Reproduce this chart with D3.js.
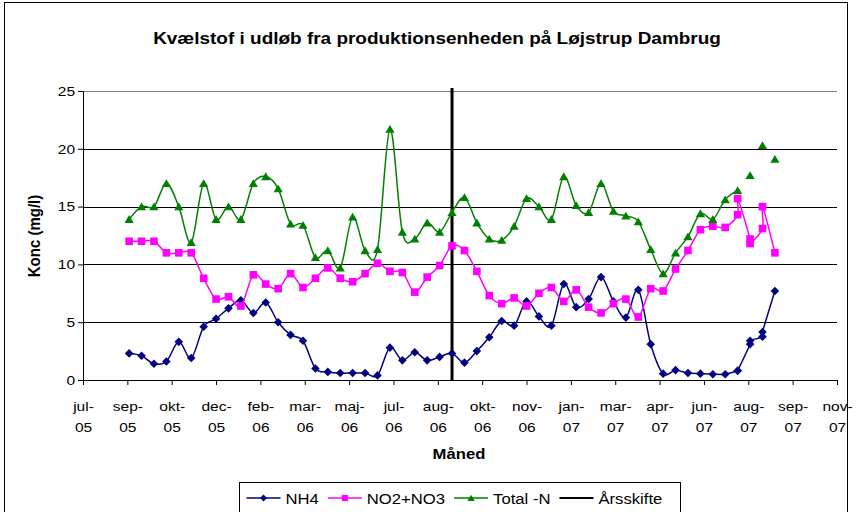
<!DOCTYPE html>
<html>
<head>
<meta charset="utf-8">
<script src="https://cdn.jsdelivr.net/npm/d3@7"></script>
<style>
  body { margin: 0; background: #fff; }
  text { font-family: Arial, "Liberation Sans", sans-serif; fill: #000; }
</style>
</head>
<body>
<div id="chart"></div>
<script>
const WIDTH = 858, HEIGHT = 512;
const M = { top: 91, right: 21, bottom: 132, left: 83 };
const innerW = WIDTH - M.left - M.right;
const innerH = HEIGHT - M.top - M.bottom;
const SX = 1.15; // the picture is a bit wider than Arial

// sampling dates (biweekly, a few doubled at the end)
const dates = [
  "2005-09-07","2005-09-21","2005-10-05","2005-10-19","2005-11-02","2005-11-16","2005-11-30","2005-12-14","2005-12-28",
  "2006-01-11","2006-01-25","2006-02-08","2006-02-22","2006-03-08","2006-03-22","2006-04-05","2006-04-19","2006-05-03",
  "2006-05-17","2006-05-31","2006-06-14","2006-06-28","2006-07-12","2006-07-26","2006-08-09","2006-08-23","2006-09-06",
  "2006-09-20","2006-10-04","2006-10-18","2006-11-01","2006-11-15","2006-11-29","2006-12-13","2006-12-27","2007-01-10",
  "2007-01-24","2007-02-07","2007-02-21","2007-03-07","2007-03-21","2007-04-04","2007-04-18","2007-05-02","2007-05-16",
  "2007-05-30","2007-06-13","2007-06-27","2007-07-11","2007-07-25","2007-07-25","2007-08-08","2007-08-08","2007-08-22",
  "2007-08-22","2007-09-05"
];
const nh4 = [
  2.3, 2.1, 1.4, 1.6, 3.3, 1.9, 4.6, 5.3, 6.2,
  6.9, 5.8, 6.7, 5.0, 3.9, 3.4, 1.0, 0.7, 0.6,
  0.6, 0.6, 0.4, 2.8, 1.7, 2.4, 1.7, 2.0, 2.3,
  1.5, 2.5, 3.7, 5.1, 4.7, 6.8, 5.5, 4.7, 8.3,
  6.3, 7.0, 8.9, 6.8, 5.4, 7.8, 3.1, 0.55, 0.85,
  0.6, 0.55, 0.5, 0.5, 0.8, 0.8, 3.1, 3.4, 3.75,
  4.15, 7.7
];
const no2no3 = [
  12.0, 12.0, 12.0, 11.0, 11.0, 11.0, 8.8, 7.0, 7.2,
  6.4, 9.1, 8.3, 7.9, 9.2, 8.0, 8.8, 9.7, 8.8,
  8.5, 9.2, 10.1, 9.4, 9.3, 7.6, 8.9, 9.9, 11.6,
  11.2, 9.4, 7.3, 6.6, 7.1, 6.4, 7.5, 8.0, 6.8,
  7.8, 6.3, 5.8, 6.6, 7.0, 5.45, 7.9, 7.7, 9.6,
  11.2, 13.0, 13.3, 13.2, 14.3, 15.7, 12.2, 11.8, 13.1,
  15.0, 11.0
];
const totalN = [
  13.9, 15.0, 15.0, 17.0, 15.0, 11.9, 17.0, 13.9, 15.0,
  13.9, 17.0, 17.6, 16.55, 13.5, 13.4, 10.6, 11.2, 9.7,
  14.1, 11.2, 11.3, 21.7, 12.8, 12.2, 13.6, 12.8, 14.5,
  15.8, 13.6, 12.2, 12.1, 13.3, 15.7, 15.0, 13.9, 17.6,
  15.1, 14.5, 17.0, 14.6, 14.2, 13.7, 11.3, 9.2, 11.0,
  12.4, 14.4, 13.9, 15.6, 16.4, null, 17.7, null, 20.3,
  null, 19.1
];
const tickLabels = ["jul-05","sep-05","okt-05","dec-05","feb-06","mar-06","maj-06","jul-06","aug-06",
  "okt-06","nov-06","jan-07","mar-07","apr-07","jun-07","aug-07","sep-07","nov-07"];
const yTicks = [0, 5, 10, 15, 20, 25];
const yearChange = "2006-09-06";
const seriesNames = ["NH4", "NO2+NO3", "Total -N", "Årsskifte"];

const parse = d3.timeParse("%Y-%m-%d");
const xStart = parse("2005-07-17");
const tickDates = tickLabels.map((_, i) => d3.timeDay.offset(xStart, 50 * i));

const svg = d3.select("#chart").append("svg")
  .attr("width", WIDTH).attr("height", HEIGHT);

// outer chart border
svg.append("rect").attr("x", 4.5).attr("y", 2.5).attr("width", 843).attr("height", 530)
  .attr("fill", "#fff").attr("stroke", "#000");

const g = svg.append("g").attr("transform", `translate(${M.left},${M.top})`);

const x = d3.scaleTime().domain([xStart, tickDates[tickDates.length - 1]]).range([0, innerW]);
const y = d3.scaleLinear().domain([0, 25]).range([innerH, 0]);

// gridlines
g.selectAll(".grid").data(yTicks.slice(1)).join("line")
  .attr("x1", 0).attr("x2", innerW)
  .attr("y1", d => Math.round(y(d)) + 0.5).attr("y2", d => Math.round(y(d)) + 0.5)
  .attr("stroke", d => d === 25 ? "#808080" : "#000").attr("stroke-width", 1);

// axes
const gy = g.append("g").call(d3.axisLeft(y).tickValues(yTicks).tickSize(5).tickSizeOuter(0));
gy.selectAll("text").attr("font-size", 13.5).attr("x", -8 / SX)
  .attr("transform", `scale(${SX},1)`);

const gx = g.append("g").attr("transform", `translate(0,${innerH})`)
  .call(d3.axisBottom(x).tickValues(tickDates).tickSize(5).tickSizeOuter(0).tickFormat(""));
gx.selectAll(".tick text").each(function(d, i) {
  const t = d3.select(this).attr("y", null).attr("dy", null)
    .attr("font-size", 13.5).attr("transform", `scale(${SX},1)`);
  const parts = tickLabels[i].split("-");
  t.append("tspan").attr("x", 0).attr("y", 31).text(parts[0] + "-");
  t.append("tspan").attr("x", 0).attr("y", 52).text(parts[1]);
});
[gx, gy].forEach(a => {
  a.select(".domain").attr("stroke", "#000");
  a.selectAll(".tick line").attr("stroke", "#000");
  a.attr("font-family", null);
});

// titles
svg.append("text").attr("transform", `translate(${WIDTH / 2 + 8},44) scale(${SX},1)`)
  .attr("text-anchor", "middle").attr("font-size", 16.5).attr("font-weight", "bold")
  .text("Kvælstof i udløb fra produktionsenheden på Løjstrup Dambrug");
svg.append("text").attr("transform", `translate(459,459) scale(${SX},1)`)
  .attr("text-anchor", "middle").attr("font-size", 14.5).attr("font-weight", "bold")
  .text("Måned");
svg.append("text").attr("transform", "translate(40,236) rotate(-90) scale(1,1.15)")
  .attr("text-anchor", "middle").attr("font-size", 15).attr("font-weight", "bold")
  .text("Konc (mg/l)");

// year change line
g.append("line")
  .attr("x1", x(parse(yearChange))).attr("x2", x(parse(yearChange)))
  .attr("y1", y(0)).attr("y2", y(25) - 3)
  .attr("stroke", "#000").attr("stroke-width", 3);

const rows = dates.map((d, i) => ({ date: parse(d), nh4: nh4[i], no: no2no3[i], tn: totalN[i] }));

const markers = {
  diamond: "M0,-4.3L4.3,0L0,4.3L-4.3,0Z",
  square: "M-3.8,-3.8H3.8V3.8H-3.8Z",
  triangle: "M0,-4.2L4.6,3.6H-4.6Z"
};
const series = [
  { key: "nh4", name: seriesNames[0], color: "#000080", marker: "diamond" },
  { key: "no", name: seriesNames[1], color: "#FF00FF", marker: "square" },
  { key: "tn", name: seriesNames[2], color: "#008000", marker: "triangle" }
];

series.forEach(s => {
  const line = d3.line()
    .defined(d => d[s.key] != null)
    .x(d => x(d.date)).y(d => y(d[s.key]))
    .curve(d3.curveCardinal.tension(0));
  g.append("path").datum(rows).attr("fill", "none")
    .attr("stroke", s.color).attr("stroke-width", 1.5).attr("d", line);
  g.selectAll(".m-" + s.key).data(rows.filter(d => d[s.key] != null)).join("path")
    .attr("class", "m-" + s.key)
    .attr("transform", d => `translate(${x(d.date)},${y(d[s.key])})`)
    .attr("d", markers[s.marker]).attr("fill", s.color);
});

// legend
const lg = svg.append("g").attr("transform", "translate(239.5,482.5)");
lg.append("rect").attr("width", 441).attr("height", 40).attr("fill", "#fff").attr("stroke", "#000");
const legendItems = series.concat([{ name: seriesNames[3], color: "#000", marker: null, width: 2 }]);
let lx = 7;
legendItems.forEach(s => {
  const it = lg.append("g").attr("transform", `translate(${lx},0)`);
  it.append("line").attr("x1", 0).attr("x2", 34).attr("y1", 15.5).attr("y2", 15.5)
    .attr("stroke", s.color).attr("stroke-width", s.width || 1.5);
  if (s.marker) it.append("path").attr("d", markers[s.marker])
    .attr("transform", "translate(17,15.5) scale(0.8)").attr("fill", s.color);
  const t = it.append("text").attr("transform", `translate(39,21) scale(${SX},1)`)
    .attr("font-size", 14.5).text(s.name);
  lx += 39 + t.node().getComputedTextLength() * SX + 9;
});
</script>
</body>
</html>
